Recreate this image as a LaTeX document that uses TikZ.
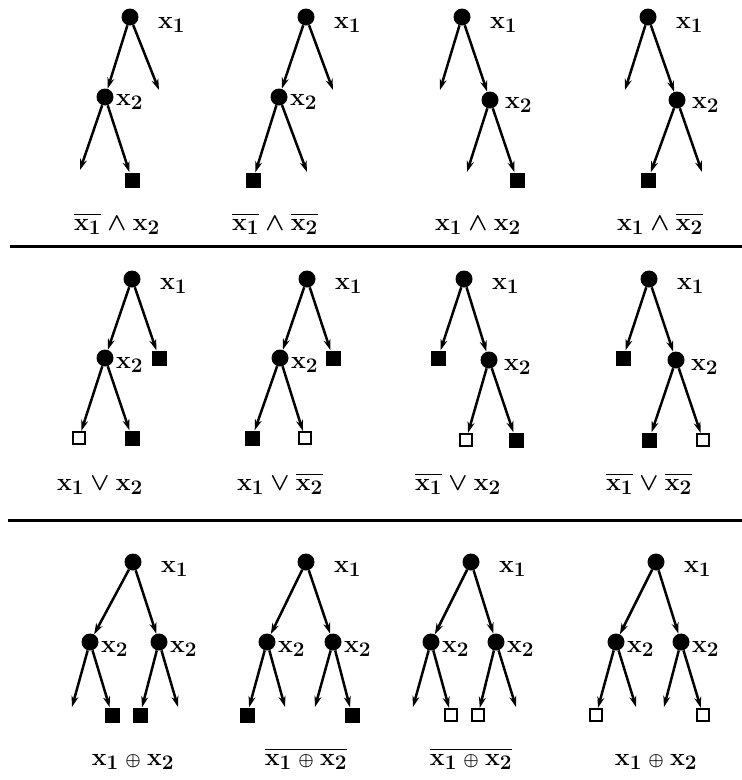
\documentclass[tikz,border=0pt]{standalone}
\usepackage{amsmath, amssymb}
\usepackage{tikz}
\usetikzlibrary{arrows.meta, positioning, calc}
\newcommand{\xo}{\mathbf{x}_1}
\newcommand{\xt}{\mathbf{x}_2}
\newcommand{\xor}{\mathbin{\scriptscriptstyle\oplus}}

\begin{document}
\begin{tikzpicture}[
  x=1pt, y=-1pt,
  var/.style={circle,fill=black,inner sep=0pt,minimum size=17pt},
  leafT/.style={rectangle,fill=black,inner sep=0pt,minimum size=15pt},
  leafF/.style={rectangle,draw=black,fill=white,line width=2.2pt,
    inner sep=0pt,minimum size=12pt},
  arr/.style={-{Stealth[length=11pt,width=7pt]},line width=2.5pt},
  lb/.style={font=\fontsize{32}{36}\selectfont\boldmath,inner sep=1pt},
  vl/.style={lb,anchor=base west},
  fl/.style={lb,anchor=base},
  sep/.style={line width=3pt}
]
\useasboundingbox (0,0) rectangle (742,780);

% ---------------- Row 1 : conjunctions ----------------
% Tree 1
\node[var] (r1) at (130,17) {};
\node[var] (a1) at (105,97) {};
\node[leafT] (s1) at (132,180) {};
\coordinate (d1a) at (159,90);
\coordinate (d1b) at (80,170);
\node[vl] at ($(r1)+(27,11)$) {$\xo$};
\node[vl] at ($(a1)+(10,8)$) {$\xt$};
\draw[arr] (r1) -- (a1);
\draw[arr] (r1) -- (d1a);
\draw[arr] (a1) -- (d1b);
\draw[arr] (a1) -- (s1);
\node[fl] (l1) at (117,230) {$\overline{\xo}\wedge\xt$};

% Tree 2
\node[var] (r2) at (306,17) {};
\node[var] (a2) at (279,97) {};
\node[leafT] (s2) at (253,180) {};
\coordinate (d2a) at (333,90);
\coordinate (d2b) at (307,172);
\node[vl] at ($(r2)+(27,11)$) {$\xo$};
\node[vl] at ($(a2)+(10,8)$) {$\xt$};
\draw[arr] (r2) -- (a2);
\draw[arr] (r2) -- (d2a);
\draw[arr] (a2) -- (s2);
\draw[arr] (a2) -- (d2b);
\node[fl] (l2) at (275,230) {$\overline{\xo}\wedge\overline{\xt}$};

% Tree 3
\node[var] (r3) at (462,17) {};
\node[var] (a3) at (490,100) {};
\node[leafT] (s3) at (517,180) {};
\coordinate (d3a) at (440,90);
\coordinate (d3b) at (467,172);
\node[vl] at ($(r3)+(27,11)$) {$\xo$};
\node[vl] at ($(a3)+(14,8)$) {$\xt$};
\draw[arr] (r3) -- (d3a);
\draw[arr] (r3) -- (a3);
\draw[arr] (a3) -- (d3b);
\draw[arr] (a3) -- (s3);
\node[fl] (l3) at (478,230) {$\xo\wedge\xt$};

% Tree 4
\node[var] (r4) at (648,17) {};
\node[var] (a4) at (677,100) {};
\node[leafT] (s4) at (648,180) {};
\coordinate (d4a) at (625,90);
\coordinate (d4b) at (702,172);
\node[vl] at ($(r4)+(27,11)$) {$\xo$};
\node[vl] at ($(a4)+(14,8)$) {$\xt$};
\draw[arr] (r4) -- (d4a);
\draw[arr] (r4) -- (a4);
\draw[arr] (a4) -- (s4);
\draw[arr] (a4) -- (d4b);
\node[fl] (l4) at (660,230) {$\xo\wedge\overline{\xt}$};

\draw[sep] (10,246) -- (742,246);

% ---------------- Row 2 : disjunctions ----------------
% Tree 5
\node[var] (r5) at (132,279) {};
\node[var] (a5) at (105,358) {};
\node[leafT] (s5a) at (159,358) {};
\node[leafF] (s5b) at (79,438) {};
\node[leafT] (s5c) at (132,438) {};
\node[vl] at ($(r5)+(27,10)$) {$\xo$};
\node[vl] at ($(a5)+(10,10)$) {$\xt$};
\draw[arr] (r5) -- (a5);
\draw[arr] (r5) -- (s5a);
\draw[arr] (a5) -- (s5b);
\draw[arr] (a5) -- (s5c);
\node[fl] (l5) at (100,490) {$\xo\vee\xt$};

% Tree 6
\node[var] (r6) at (307,279) {};
\node[var] (a6) at (280,358) {};
\node[leafT] (s6a) at (333,358) {};
\node[leafT] (s6b) at (252,438) {};
\node[leafF] (s6c) at (305,438) {};
\node[vl] at ($(r6)+(27,10)$) {$\xo$};
\node[vl] at ($(a6)+(10,10)$) {$\xt$};
\draw[arr] (r6) -- (a6);
\draw[arr] (r6) -- (s6a);
\draw[arr] (a6) -- (s6b);
\draw[arr] (a6) -- (s6c);
\node[fl] (l6) at (280,490) {$\xo\vee\overline{\xt}$};

% Tree 7
\node[var] (r7) at (464,279) {};
\node[leafT] (s7a) at (438,358) {};
\node[var] (a7) at (489,360) {};
\node[leafF] (s7b) at (466,440) {};
\node[leafT] (s7c) at (516,440) {};
\node[vl] at ($(r7)+(27,10)$) {$\xo$};
\node[vl] at ($(a7)+(14,10)$) {$\xt$};
\draw[arr] (r7) -- (s7a);
\draw[arr] (r7) -- (a7);
\draw[arr] (a7) -- (s7b);
\draw[arr] (a7) -- (s7c);
\node[fl] (l7) at (458,490) {$\overline{\xo}\vee\xt$};

% Tree 8
\node[var] (r8) at (649,279) {};
\node[leafT] (s8a) at (623,358) {};
\node[var] (a8) at (676,360) {};
\node[leafT] (s8b) at (649,440) {};
\node[leafF] (s8c) at (703,440) {};
\node[vl] at ($(r8)+(27,10)$) {$\xo$};
\node[vl] at ($(a8)+(14,10)$) {$\xt$};
\draw[arr] (r8) -- (s8a);
\draw[arr] (r8) -- (a8);
\draw[arr] (a8) -- (s8b);
\draw[arr] (a8) -- (s8c);
\node[fl] (l8) at (649,490) {$\overline{\xo}\vee\overline{\xt}$};

\draw[sep] (8,520) -- (742,520);

% ---------------- Row 3 : exclusive or ----------------
% Tree 9
\node[var] (r9) at (133,562) {};
\node[var] (a9) at (90,642) {};
\node[var] (b9) at (159,642) {};
\node[leafT] (s9a) at (112,715) {};
\node[leafT] (s9b) at (140,715) {};
\coordinate (d9a) at (72,707);
\coordinate (d9b) at (178,707);
\node[vl] at ($(r9)+(27,10)$) {$\xo$};
\node[vl] at ($(a9)+(10,10)$) {$\xt$};
\node[vl] at ($(b9)+(10,10)$) {$\xt$};
\draw[arr] (r9) -- (a9);
\draw[arr] (r9) -- (b9);
\draw[arr] (a9) -- (d9a);
\draw[arr] (a9) -- (s9a);
\draw[arr] (b9) -- (s9b);
\draw[arr] (b9) -- (d9b);
\node[fl] (l9) at (133,765) {$\xo\xor\xt$};

% Tree 10
\node[var] (r10) at (306,562) {};
\node[var] (a10) at (267,642) {};
\node[var] (b10) at (333,642) {};
\node[leafT] (s10a) at (247,715) {};
\node[leafT] (s10b) at (352,715) {};
\coordinate (d10a) at (285,707);
\coordinate (d10b) at (315,707);
\node[vl] at ($(r10)+(27,10)$) {$\xo$};
\node[vl] at ($(a10)+(10,10)$) {$\xt$};
\node[vl] at ($(b10)+(10,10)$) {$\xt$};
\draw[arr] (r10) -- (a10);
\draw[arr] (r10) -- (b10);
\draw[arr] (a10) -- (s10a);
\draw[arr] (a10) -- (d10a);
\draw[arr] (b10) -- (d10b);
\draw[arr] (b10) -- (s10b);
\node[fl] (l10) at (306,765) {$\overline{\xo\xor\xt}$};

% Tree 11
\node[var] (r11) at (471,562) {};
\node[var] (a11) at (431,642) {};
\node[var] (b11) at (496,642) {};
\node[leafF] (s11a) at (451,715) {};
\node[leafF] (s11b) at (478,715) {};
\coordinate (d11a) at (413,707);
\coordinate (d11b) at (516,707);
\node[vl] at ($(r11)+(27,10)$) {$\xo$};
\node[vl] at ($(a11)+(10,10)$) {$\xt$};
\node[vl] at ($(b11)+(10,10)$) {$\xt$};
\draw[arr] (r11) -- (a11);
\draw[arr] (r11) -- (b11);
\draw[arr] (a11) -- (d11a);
\draw[arr] (a11) -- (s11a);
\draw[arr] (b11) -- (s11b);
\draw[arr] (b11) -- (d11b);
\node[fl] (l11) at (471,765) {$\overline{\xo\xor\xt}$};

% Tree 12
\node[var] (r12) at (656,562) {};
\node[var] (a12) at (616,642) {};
\node[var] (b12) at (681,642) {};
\node[leafF] (s12a) at (596,715) {};
\node[leafF] (s12b) at (703,715) {};
\coordinate (d12a) at (636,707);
\coordinate (d12b) at (664,707);
\node[vl] at ($(r12)+(27,10)$) {$\xo$};
\node[vl] at ($(a12)+(10,10)$) {$\xt$};
\node[vl] at ($(b12)+(10,10)$) {$\xt$};
\draw[arr] (r12) -- (a12);
\draw[arr] (r12) -- (b12);
\draw[arr] (a12) -- (s12a);
\draw[arr] (a12) -- (d12a);
\draw[arr] (b12) -- (d12b);
\draw[arr] (b12) -- (s12b);
\node[fl] (l12) at (656,765) {$\xo\xor\xt$};

\end{tikzpicture}
\end{document}
